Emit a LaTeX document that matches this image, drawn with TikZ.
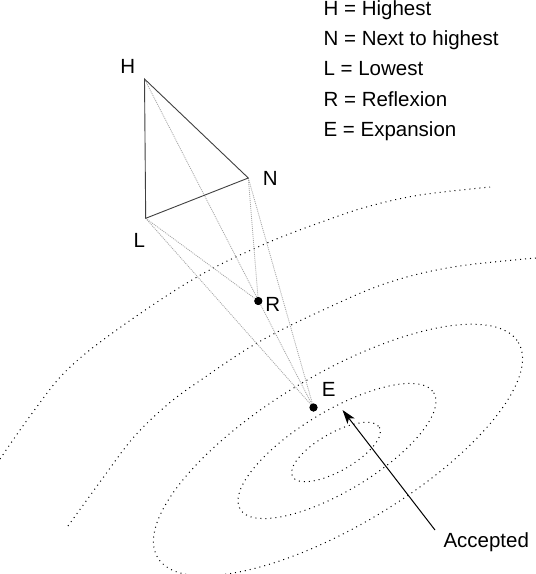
\documentclass[tikz,border=0pt]{standalone}
\usepackage{fontspec}
\setmainfont{Liberation Sans}
\usetikzlibrary{arrows.meta}
\begin{document}
\begin{tikzpicture}[x=1pt,y=-1pt,
  lbl/.style={anchor=base west,inner sep=0pt,font=\fontsize{20.5}{24}\selectfont},
  edge/.style={draw=black!75,line width=0.9pt},
  ray/.style={draw=black!35,line width=0.8pt,dash pattern=on 1pt off 1pt},
  contour/.style={draw=black,line width=1pt,dash pattern=on 1pt off 4pt},
  pt/.style={circle,fill=black,inner sep=0pt,minimum size=8pt},
  accarrow/.style={draw=black,line width=1pt,-{Stealth[length=14pt,width=9pt,inset=3.5pt]}}]
\useasboundingbox (0,0) rectangle (536,574);
\fill[white] (0,0) rectangle (536,574);

% contour lines
\draw[contour, rotate around={29.6:(336,452)}] (336,452) ellipse [x radius=50, y radius=19];
\draw[contour, rotate around={31:(337,451)}] (337,451) ellipse [x radius=113, y radius=40];
\draw[contour, rotate around={30.8:(338,450)}] (338,450) ellipse [x radius=210, y radius=76];
\draw[contour] plot[smooth, tension=0.6] coordinates {(68,526) (100,482) (133,438) (167,405) (198,382) (257,343) (323,310) (387,283) (453,267) (536,258)};
\draw[contour] plot[smooth, tension=0.6] coordinates {(0,459) (33,412) (67,370) (118,329) (197,277) (267,243) (330,219) (370,206) (420,195) (490,187)};

% simplex vertices and points
\coordinate (H) at (144.5,79);
\coordinate (N) at (248.3,178);
\coordinate (L) at (145.7,218.3);
\node[pt] (R) at (258.3,301) {};
\node[pt] (E) at (313.5,407.5) {};

% reflection / expansion rays
\draw[ray] (H) -- (E.center);
\draw[ray] (N) -- (R.center);
\draw[ray] (N) -- (E.center);
\draw[ray] (L) -- (R.center);
\draw[ray] (L) -- (E.center);

% simplex
\draw[edge] (H) -- (N) -- (L) -- cycle;

% points drawn on top
\fill (R) circle (4pt);
\fill (E) circle (4pt);

% labels
\node[lbl] (labH) at (120.1,73.3) {H};
\node[lbl] (labN) at (262.7,185) {N};
\node[lbl] (labL) at (133.5,247.7) {L};
\node[lbl] (labR) at (265.1,311) {R};
\node[lbl] (labE) at (321.7,396.7) {E};

% legend
\node[lbl] (leg1) at (323.4,15) {H = Highest};
\node[lbl] (leg2) at (323.4,45.4) {N = Next to highest};
\node[lbl] (leg3) at (323.4,75.8) {L = Lowest};
\node[lbl] (leg4) at (323.4,106.2) {R = Reflexion};
\node[lbl] (leg5) at (323.4,136.6) {E = Expansion};

% accepted arrow
\node[lbl] (acc) at (443.3,547) {Accepted};
\coordinate (accTail) at (435,530);
\coordinate (accTip) at (342.5,410);
\draw[accarrow] (accTail) -- (accTip);
\end{tikzpicture}
\end{document}
